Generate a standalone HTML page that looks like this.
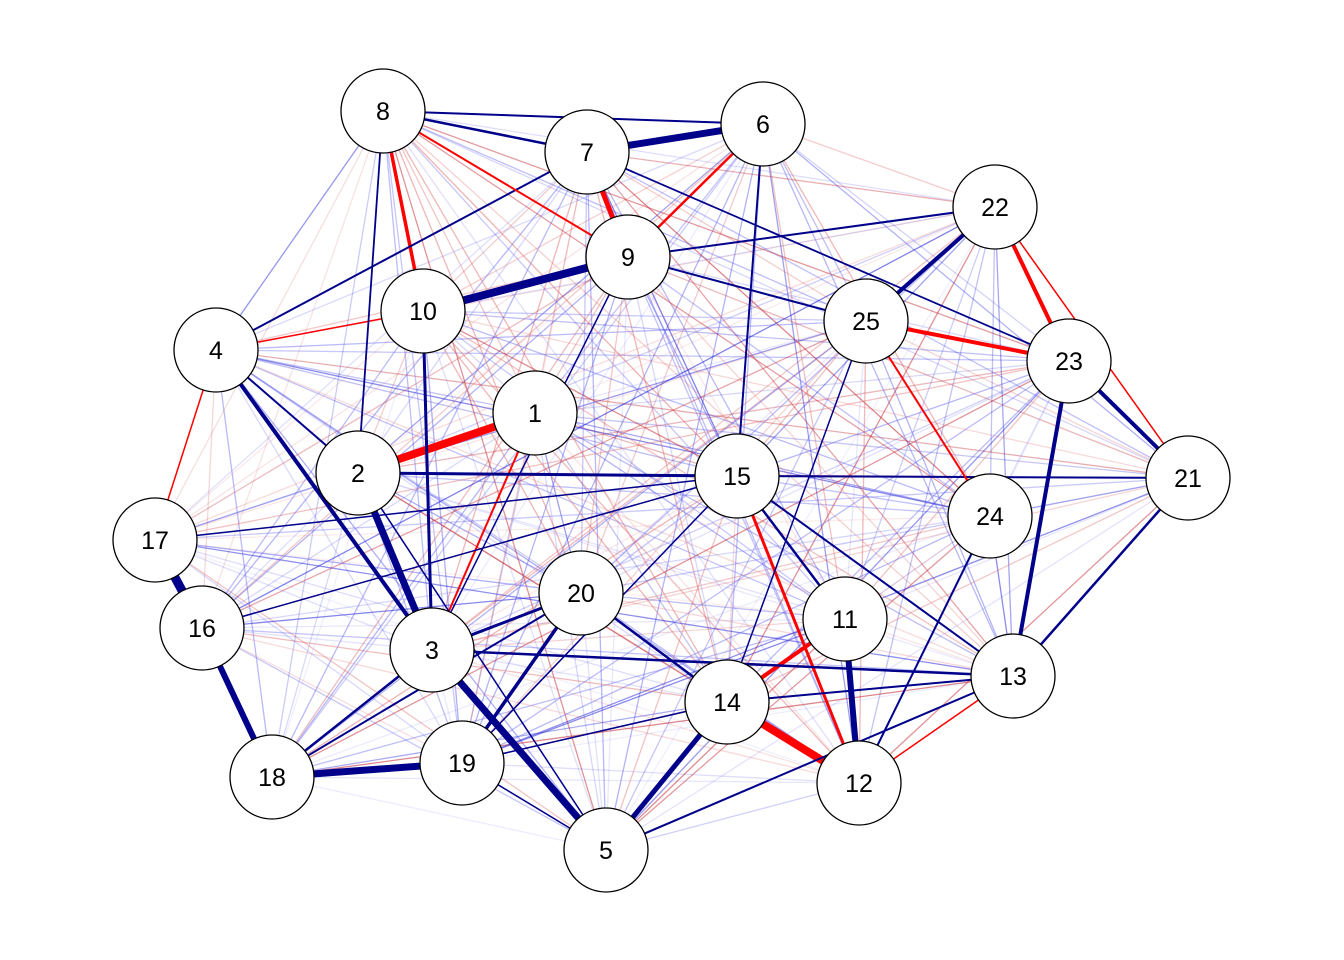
<!DOCTYPE html>
<html><head><meta charset="utf-8"><style>
html,body{margin:0;padding:0;background:#fff;}
svg{display:block;}
text{font-family:"Liberation Sans",Arial,sans-serif;font-size:25px;fill:#000;}
</style></head><body>
<svg id="g" width="1344" height="960" viewBox="0 0 1344 960" xmlns="http://www.w3.org/2000/svg">
<g id="faint"></g><g id="strong"></g><g id="nodes"></g>
</svg>
<script>
var P={1:[535,413],2:[358,473],3:[432,650],4:[216,350],5:[606,850],6:[763,124],7:[587,152],8:[383,111],9:[628,257],10:[423,311],11:[845,619],12:[859,783],13:[1013,676],14:[727,702],15:[737,476],16:[202,628],17:[155,540],18:[272,777],19:[462,763],20:[581,593],21:[1188,478],22:[995,207],23:[1069,361],24:[990,516],25:[866,321]};
var NS="http://www.w3.org/2000/svg";
function line(g,a,b,c,w,o){var l=document.createElementNS(NS,"line");l.setAttribute("x1",P[a][0]);l.setAttribute("y1",P[a][1]);l.setAttribute("x2",P[b][0]);l.setAttribute("y2",P[b][1]);l.setAttribute("stroke",c);l.setAttribute("stroke-width",w);l.setAttribute("stroke-opacity",o);g.appendChild(l);}
var seed=7;function rnd(){seed=(seed*16807)%2147483647;return seed/2147483647;}
var fg=document.getElementById("faint");
for(var i=1;i<=25;i++)for(var j=i+1;j<=25;j++){
 var r=rnd();var d=Math.hypot(P[i][0]-P[j][0],P[i][1]-P[j][1]);
 if(d>900&&r<0.5)continue;
 var blue=rnd()<0.6;var o=0.1+rnd()*0.45;
 var c=blue?(rnd()<0.4?"#1a1ad8":"#6a6af0"):(rnd()<0.4?"#c0202a":"#e07070");
 line(fg,i,j,c,1.3,o);
}
var sg=document.getElementById("strong");
var N="#00008b",R="#ff0000";
var S=[[7,6,N,7],[10,9,N,8],[1,2,R,8],[2,3,N,7],[17,16,N,9],[16,18,N,6],[18,19,N,7],[3,5,N,7],[14,5,N,5],[14,12,R,8],[11,12,N,6],[23,13,N,4],[22,25,N,4],[25,23,R,4],[22,23,R,4],[23,21,N,4],[8,10,R,3.5],[7,9,R,5],[9,6,R,2.5],[4,3,N,4],[15,12,R,3],[14,11,R,4],[1,3,R,2],[2,15,N,3],[3,13,N,2.5],[20,19,N,3.5],[4,7,N,2],[8,6,N,2],[8,7,N,2.5],[10,3,N,3],[8,9,R,2],[4,10,R,1.5],[4,2,N,2],[20,3,N,3],[20,18,N,2],[3,18,N,2.5],[15,11,N,2.5],[15,13,N,2],[21,13,N,2.5],[24,12,N,2],[5,13,N,2],[14,20,N,2.5],[2,8,N,1.8],[9,25,N,2],[9,22,N,2],[7,23,N,1.8],[6,15,N,2],[15,21,N,2],[19,15,N,1.5],[14,25,N,1.5],[25,24,R,2],[22,21,R,1.5],[13,12,R,1.5],[4,17,R,1.5],[3,9,N,1.5],[17,15,N,1.5],[2,5,N,1.5],[14,13,N,2],[19,14,N,1.5],[16,15,N,1.5],[19,5,N,1.5]];
S.forEach(function(s){line(sg,s[0],s[1],s[2],s[3],1);});
var ng=document.getElementById("nodes");
for(var k in P){var c=document.createElementNS(NS,"circle");c.setAttribute("cx",P[k][0]);c.setAttribute("cy",P[k][1]);c.setAttribute("r",42);c.setAttribute("fill","#fff");c.setAttribute("stroke","#000");c.setAttribute("stroke-width",1.3);ng.appendChild(c);
var t=document.createElementNS(NS,"text");t.setAttribute("x",P[k][0]);t.setAttribute("y",P[k][1]+9);t.setAttribute("text-anchor","middle");t.textContent=k;ng.appendChild(t);}
</script>
</body></html>
